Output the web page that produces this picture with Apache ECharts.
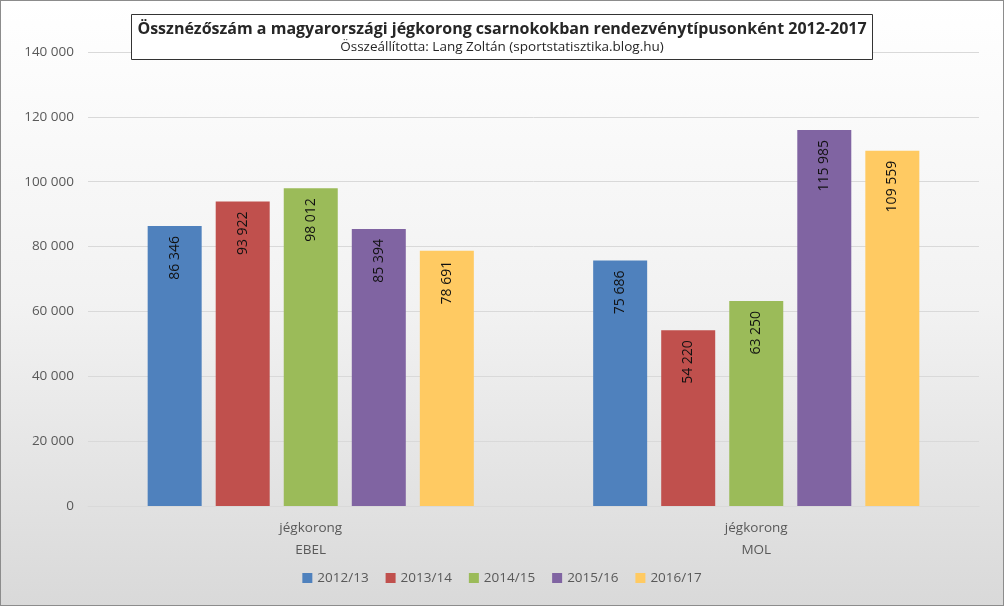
<!DOCTYPE html>
<html><head><meta charset="utf-8">
<script src="https://cdn.jsdelivr.net/npm/echarts@6/dist/echarts.min.js"></script>
<style>
html,body{margin:0;padding:0;}
#c{width:1002px;height:604px;border:1px solid #8c8c8c;background:linear-gradient(to bottom,#ffffff 0%,#f2f2f2 50%,#d9d9d9 100%);}
</style></head><body>
<div id="c"></div>
<script>
const categories = ['jégkorong\nEBEL', 'jégkorong\nMOL'];
const seasons = ['2012/13', '2013/14', '2014/15', '2015/16', '2016/17'];
const s2012 = [86346, 75686];
const s2013 = [93922, 54220];
const s2014 = [98012, 63250];
const s2015 = [85394, 115985];
const s2016 = [78691, 109559];
const colors = ['#4F81BD', '#C0504D', '#9BBB59', '#8064A2', '#FFCA62'];

const values = [s2012, s2013, s2014, s2015, s2016];
const fmt = v => String(v).replace(/\B(?=(\d{3})+(?!\d))/g, ' ');
const font = 'Open Sans';
const chart = echarts.init(document.getElementById('c'));
chart.setOption({
  color: colors,
  textStyle: {fontFamily: font},
  title: {
    text: 'Össznézőszám a magyarországi jégkorong csarnokokban rendezvénytípusonként 2012-2017',
    subtext: 'Összeállította: Lang Zoltán (sportstatisztika.blog.hu)',
    left: 'center', top: 13,
    backgroundColor: '#fff', borderColor: '#333', borderWidth: 1,
    padding: [7, 6, 6, 6], itemGap: 3,
    textStyle: {fontFamily: font, fontSize: 16, fontWeight: 'bold', color: '#262626'},
    subtextStyle: {fontFamily: font, fontSize: 13.5, color: '#262626'}
  },
  legend: {
    data: seasons, bottom: 15, left: 'center',
    itemWidth: 10, itemHeight: 10, icon: 'rect', itemGap: 17,
    textStyle: {fontFamily: font, fontSize: 13.5, color: '#595959'}
  },
  grid: {left: 87, right: 24, top: 51, bottom: 99, containLabel: false},
  xAxis: {
    type: 'category', data: categories,
    axisLine: {lineStyle: {color: '#d9d9d9'}},
    axisTick: {show: false},
    axisLabel: {fontFamily: font, fontSize: 13.5, color: '#595959', lineHeight: 22, margin: 11}
  },
  yAxis: {
    type: 'value', min: 0, max: 140000, interval: 20000,
    axisLine: {show: false}, axisTick: {show: false},
    splitLine: {lineStyle: {color: '#d9d9d9'}},
    axisLabel: {fontFamily: font, fontSize: 13.5, color: '#595959', margin: 14, formatter: fmt}
  },
  series: seasons.map((name, i) => ({
    name, type: 'bar', data: values[i], barWidth: 54, barGap: '26%',
    label: {
      show: true, position: 'insideTop', rotate: 90, align: 'right', verticalAlign: 'middle',
      distance: 10, fontFamily: font, fontSize: 14, color: '#111', formatter: p => fmt(p.value)
    }
  }))
});
</script>
</body></html>
